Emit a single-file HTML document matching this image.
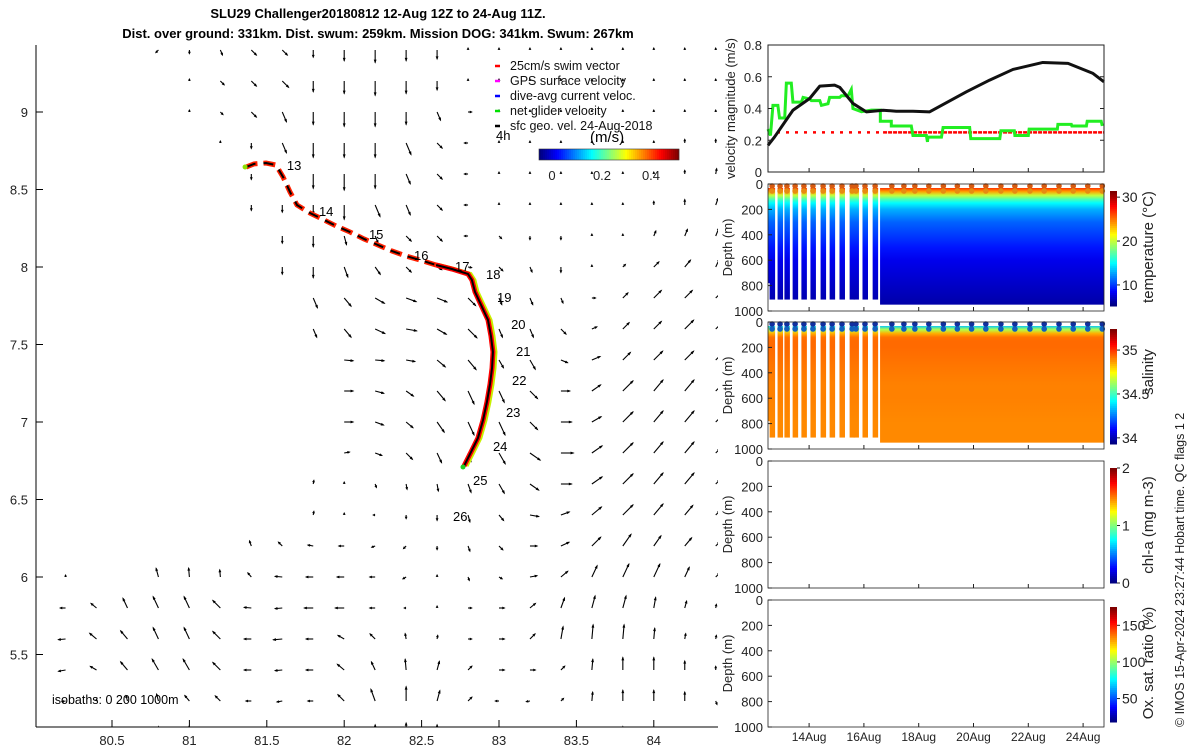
<!DOCTYPE html>
<html><head><meta charset="utf-8">
<style>
html,body{margin:0;padding:0;background:#fff;}
svg{display:block;font-family:"Liberation Sans",sans-serif;}
</style></head>
<body>
<svg id="fig" width="1200" height="750" viewBox="0 0 1200 750" xmlns="http://www.w3.org/2000/svg">
<defs>
<clipPath id="mapclip"><rect x="36" y="45" width="682" height="682"/></clipPath>
</defs>
<g font-weight="bold" font-size="13" text-anchor="middle">
<text x="378" y="18">SLU29 Challenger20180812 12-Aug 12Z to 24-Aug 11Z.</text>
<text x="378" y="38">Dist. over ground: 331km. Dist. swum: 259km. Mission DOG: 341km. Swum: 267km</text>
</g>
<g id="map"></g>
<g id="right"></g>
</svg>
<script>
// ===== map data =====
const quiverLats = [9.4,9.2,9.0,8.8,8.6,8.4,8.2,8.0,7.8,7.6,7.4,7.2,7.0,6.8,6.6,6.4,6.2,6.0,5.8,5.6,5.4,5.2,5.0];
const quiverLons = [80.2,80.4,80.6,80.8,81.0,81.2,81.4,81.6,81.8,82.0,82.2,82.4,82.6,82.8,83.0,83.2,83.4,83.6,83.8,84.0,84.2,84.4];
const _ = null;
// direction (deg clockwise from north) per row
const quiverDir = [
[_,_,_,225,180,157,135,135,180,180,180,180,180,0,0,0,0,0,0,0,0,0],
[_,_,_,_,0,135,135,135,180,180,180,180,180,0,0,0,0,0,0,0,0,0],
[_,_,_,_,0,135,135,157,180,180,180,180,157,90,0,0,0,0,0,0,0,0],
[_,_,_,_,_,0,180,157,180,180,180,157,135,270,0,0,0,0,0,0,0,0],
[_,_,_,_,_,_,180,_,180,180,180,157,135,270,0,0,0,0,0,0,0,10],
[_,_,_,_,_,_,180,180,180,180,157,157,135,270,0,0,0,0,0,0,0,20],
[_,_,_,_,_,_,_,180,180,165,157,135,135,270,135,180,180,0,0,22,22,22],
[_,_,_,_,_,_,_,180,180,160,145,135,120,100,135,157,180,0,45,45,40,25],
[_,_,_,_,_,_,_,_,157,140,120,110,112,135,157,157,157,90,45,45,45,45],
[_,_,_,_,_,_,_,_,157,140,115,100,120,135,157,157,135,67,45,45,45,45],
[_,_,_,_,_,_,_,_,_,95,95,100,130,140,150,150,112,67,45,45,45,45],
[_,_,_,_,_,_,_,_,_,90,105,125,140,155,155,135,90,55,45,40,40,45],
[_,_,_,_,_,_,_,_,_,90,110,130,145,155,155,135,90,60,45,40,40,45],
[_,_,_,_,_,_,_,_,_,80,110,135,155,160,150,125,90,55,45,40,40,45],
[_,_,_,_,_,_,_,_,10,0,160,170,170,160,150,125,90,55,45,40,40,45],
[_,_,_,_,_,_,_,_,10,0,270,180,180,165,140,100,70,50,45,40,40,45],
[_,_,_,_,_,_,340,315,280,270,250,225,180,160,135,90,65,45,35,35,40,45],
[0,_,_,345,355,355,320,275,270,270,270,240,0,160,120,80,50,25,25,25,25,45],
[270,310,335,335,335,315,275,265,270,270,270,270,0,90,90,50,20,15,15,10,15,10],
[265,310,320,335,335,315,270,265,270,300,315,350,10,90,90,45,10,5,5,5,10,10],
[260,300,320,330,330,315,270,265,270,310,335,355,15,45,90,90,45,5,0,0,0,0],
[260,0,345,345,320,315,270,260,270,315,340,0,15,45,270,260,45,5,0,0,0,160],
[_,_,0,0,355,0,_,_,_,0,0,0,0,_,_,_,_,0,0,0,_,_]
];
// speed (relative units) per row
const quiverSpd = [
[_,_,_,2,2,3,4,4,4,6,7,6,5,1,1,1,1,1,1,1,1,1],
[_,_,_,_,1,3,4,5,6,7,8,7,5,1,1,1,1,1,1,1,1,1],
[_,_,_,_,1,2,4,6,7,8,8,7,5,2,1,1,1,1,1,1,1,1],
[_,_,_,_,_,1,3,6,8,8,8,7,4,2,1,1,1,1,1,1,2,2],
[_,_,_,_,_,_,3,_,8,9,8,6,4,2,1,1,1,1,1,1,2,3],
[_,_,_,_,_,_,3,4,5,8,7,6,4,2,1,1,1,1,1,2,3,4],
[_,_,_,_,_,_,_,4,6,5,4,4,4,2,2,2,2,1,1,3,4,5],
[_,_,_,_,_,_,_,4,6,6,5,4,3,2,3,3,3,1,2,4,5,5],
[_,_,_,_,_,_,_,_,6,6,6,6,6,6,4,4,3,2,4,6,6,5],
[_,_,_,_,_,_,_,_,5,6,6,6,6,7,5,5,4,3,5,6,7,5],
[_,_,_,_,_,_,_,_,_,5,5,5,6,7,5,6,4,5,6,7,7,5],
[_,_,_,_,_,_,_,_,_,5,5,5,7,8,7,6,5,6,8,8,8,4],
[_,_,_,_,_,_,_,_,_,5,5,5,7,8,8,6,6,6,8,8,8,4],
[_,_,_,_,_,_,_,_,_,3,4,5,6,5,7,7,7,7,8,8,8,3],
[_,_,_,_,_,_,_,_,2,1,2,3,4,5,6,6,6,7,8,8,8,3],
[_,_,_,_,_,_,_,_,2,1,1,2,3,4,4,5,5,7,8,8,7,3],
[_,_,_,_,_,_,3,3,3,3,2,2,2,3,3,4,5,7,8,7,6,3],
[1,_,_,5,5,4,3,4,4,4,3,2,1,2,2,4,5,7,8,8,6,3],
[3,4,6,7,7,6,4,4,5,5,3,1,1,2,3,4,6,7,7,6,4,2],
[4,5,6,7,7,6,4,5,4,4,4,3,2,2,3,4,7,8,8,6,3,2],
[4,4,6,7,7,6,4,4,4,5,5,6,5,3,3,3,3,6,7,7,5,2],
[2,1,3,4,4,4,3,3,3,5,7,8,6,3,2,2,2,5,6,6,5,2],
[_,_,1,3,3,2,_,_,_,2,4,5,4,_,_,_,_,2,3,1,_,_]
];
// glider track (lon/lat)
const trackLon = [81.366,81.417,81.495,81.559,81.605,81.650,81.695,81.779,81.857,81.947,82.037,82.128,82.218,82.309,82.399,82.490,82.593,82.696,82.800,82.825,82.845,82.884,82.929,82.948,82.961,82.955,82.942,82.922,82.897,82.864,82.819,82.774];
const trackLat = [8.645,8.665,8.671,8.658,8.581,8.484,8.400,8.348,8.310,8.265,8.226,8.181,8.142,8.103,8.071,8.045,8.013,7.987,7.955,7.916,7.839,7.755,7.658,7.555,7.452,7.348,7.245,7.129,7.013,6.897,6.806,6.716];
const dashedUntil = 16; // index where track becomes continuous
const dayNames = ["13","14","15","16","17","18","19","20","21","22","23","24","25","26"];
const dayLon = [81.630,81.837,82.160,82.451,82.716,82.916,82.987,83.078,83.110,83.084,83.045,82.961,82.832,82.703];
const dayLat = [8.658,8.361,8.213,8.077,8.006,7.955,7.806,7.632,7.458,7.271,7.065,6.845,6.626,6.394];
const mapXTicks = [80.5,81,81.5,82,82.5,83,83.5,84];
const mapYTicks = [9,8.5,8,7.5,7,6.5,6,5.5];

// ===== time series data (t = days since 12-Aug 12Z) =====
const sfcT = [0,0.24,0.91,1.52,1.89,2.43,2.62,3.1,3.59,4.2,4.68,5.29,5.9,7.24,8.09,8.94,10.03,10.95,11.86,12.26];
const sfcV = [0.168,0.221,0.389,0.463,0.541,0.547,0.533,0.432,0.379,0.389,0.383,0.383,0.379,0.505,0.579,0.646,0.69,0.684,0.621,0.568];
const netT = [0,0.09,0.18,0.36,0.42,0.61,0.67,0.85,0.91,1.22,1.28,1.52,1.58,1.89,1.95,2.19,2.25,2.62,2.68,2.92,3.04,3.1,3.41,3.77,4.1,4.1,4.5,4.5,5.23,5.29,5.78,5.82,5.84,6.33,6.39,7.36,7.4,8.46,8.5,8.99,9.01,9.5,9.53,10.56,10.58,11.07,11.09,11.62,11.65,12.16,12.2];
const netV = [0.27,0.23,0.42,0.42,0.34,0.34,0.56,0.56,0.44,0.44,0.47,0.46,0.45,0.45,0.42,0.43,0.47,0.47,0.48,0.48,0.52,0.40,0.38,0.39,0.39,0.32,0.32,0.29,0.29,0.23,0.23,0.19,0.22,0.22,0.28,0.28,0.21,0.21,0.26,0.26,0.23,0.23,0.27,0.27,0.30,0.30,0.29,0.29,0.32,0.32,0.29];
const swimV = 0.25;
const velTicks = [0,0.2,0.4,0.6,0.8];
const dateTicks = ["14Aug","16Aug","18Aug","20Aug","22Aug","24Aug"];
const dateTickT = [1.5,3.5,5.5,7.5,9.5,11.5];
const depthTicks = [0,200,400,600,800,1000];
const diveT = [0.15,0.44,0.69,0.99,1.31,1.64,2.01,2.34,2.70,3.07,3.21,3.54,3.91];
const surfT = [4.52,4.96,5.36,5.87,6.4,6.91,7.43,7.95,8.5,9.01,9.56,10.08,10.62,11.14,11.67,12.2];
const profDepth = [0,30,60,90,120,150,200,300,400,500,600,800,1000];
const profTemp = [29,27,24,20,17,15,13,11,10,9,8,7,6];
const profSal = [34.0,34.35,34.65,34.85,34.93,34.94,34.94,34.93,34.92,34.91,34.91,34.9,34.9];
const tempTicks = [10,20,30], salTicks = [34,34.5,35], chlTicks = [0,1,2], oxTicks = [50,100,150];

// ===== helpers =====
const NS = "http://www.w3.org/2000/svg";
function mk(tag, attrs, parent){const e=document.createElementNS(NS,tag);for(const k in attrs)e.setAttribute(k,attrs[k]);parent.appendChild(e);return e;}
function jet(f){f=Math.max(0,Math.min(1,f));const r=Math.max(0,Math.min(1,1.5-Math.abs(4*f-3))),g=Math.max(0,Math.min(1,1.5-Math.abs(4*f-2))),b=Math.max(0,Math.min(1,1.5-Math.abs(4*f-1)));return `rgb(${Math.round(r*255)},${Math.round(g*255)},${Math.round(b*255)})`;}

const lonToX = lon => 112 + (lon-80.5)*154.8;
const latToY = lat => 112 + (9-lat)*155;

// ===== map =====
const map = document.getElementById('map');
const mg = mk('g',{'clip-path':'url(#mapclip)'},map);


for(let r=0;r<quiverLats.length;r++){
  for(let c=0;c<quiverLons.length;c++){
    const d=quiverDir[r][c], s=quiverSpd[r][c];
    if(d===null||s===null) continue;
    const x0=lonToX(quiverLons[c]), y0=latToY(quiverLats[r]);
    const L=s*1.8, a=d*Math.PI/180;
    const dx=Math.sin(a)*L, dy=-Math.cos(a)*L;
    const g=mk('g',{},mg);
    
    
    mk('line',{x1:x0,y1:y0,x2:x0+dx,y2:y0+dy,stroke:'#000','stroke-width':1.1},g);
    const ux=Math.sin(a), uy=-Math.cos(a), h=Math.min(3,1.3+L*0.15);
    const tx=x0+dx, ty=y0+dy;
    mk('polygon',{points:`${tx+ux*1.2},${ty+uy*1.2} ${tx-ux*h-uy*1.4},${ty-uy*h+ux*1.4} ${tx-ux*h+uy*1.4},${ty-uy*h-ux*1.4}`,fill:'#000'},g);
  }
}
// track
const tg = mk('g',{'clip-path':'url(#mapclip)'},map);


const ptsA=[],ptsB=[];
for(let i=0;i<trackLon.length;i++){const p=`${lonToX(trackLon[i])},${latToY(trackLat[i])}`; if(i<=dashedUntil) ptsA.push(p); if(i>=dashedUntil) ptsB.push(p);}
const ptsBY = trackLon.slice(dashedUntil).map((v,i)=>`${lonToX(v)+2.5},${latToY(trackLat[dashedUntil+i])}`).join(' ');
mk('polyline',{points:ptsBY,fill:'none',stroke:'#c8f000','stroke-width':4},tg);
mk('polyline',{points:ptsB.join(' '),fill:'none',stroke:'#ff0000','stroke-width':5},tg);
mk('polyline',{points:ptsB.join(' '),fill:'none',stroke:'#000','stroke-width':2},tg);
mk('polyline',{points:ptsA.join(' '),fill:'none',stroke:'#ff2000','stroke-width':5,'stroke-dasharray':'12 6'},tg);
mk('polyline',{points:ptsA.join(' '),fill:'none',stroke:'#000','stroke-width':2,'stroke-dasharray':'10 8'},tg);
mk('circle',{cx:lonToX(trackLon[0])-1,cy:latToY(trackLat[0]),r:2.5,fill:'#8fe000'},tg);
mk('circle',{cx:lonToX(trackLon[trackLon.length-1])-1,cy:latToY(trackLat[trackLat.length-1])+1,r:2.5,fill:'#20d020'},tg);
for(let i=0;i<dayNames.length;i++){
  const t=mk('text',{x:lonToX(dayLon[i]),y:latToY(dayLat[i])+5,'font-size':13},map);
  
  
  t.textContent=dayNames[i];
}
// axes
const ax = mk('g',{stroke:'#000','stroke-width':1},map);


mk('line',{x1:36,y1:45,x2:36,y2:727},ax);
mk('line',{x1:36,y1:727,x2:718,y2:727},ax);
for(const v of mapXTicks){const x=lonToX(v);mk('line',{x1:x,y1:727,x2:x,y2:720},ax);
  const t=mk('text',{x:x,y:745,'font-size':13,'text-anchor':'middle',stroke:'none',fill:'#222'},map);
    t.textContent=v;}
for(const v of mapYTicks){const y=latToY(v);mk('line',{x1:36,y1:y,x2:43,y2:y},ax);
  const t=mk('text',{x:28,y:y+5,'font-size':13,'text-anchor':'end',stroke:'none',fill:'#222'},map);
    t.textContent=v;}
// legend
const legItems=[['#ff0000','25cm/s swim vector'],['#ff00ff','GPS surface velocity'],['#0000ff','dive-avg current veloc.'],['#00e000','net glider velocity'],['#000000','sfc geo. vel. 24-Aug-2018']];
legItems.forEach((it,i)=>{
  const g=mk('g',{},map);
   
  mk('line',{x1:495,y1:66+i*15,x2:500,y2:66+i*15,stroke:it[0],'stroke-width':2.5},g);
  const t=mk('text',{x:510,y:66+i*15+4,'font-size':12.5,fill:'#111'},g); t.textContent=it[1];
});
const t4=mk('text',{x:496,y:140,'font-size':13},map);   t4.textContent='4h';
const tms=mk('text',{x:590,y:142,'font-size':15},map);   tms.textContent='(m/s)';
const cbm=mk('g',{},map);  
for(let i=0;i<70;i++) mk('rect',{x:539+i*2,y:149,width:2.2,height:11,fill:jet(i/69)},cbm);
mk('rect',{x:539,y:149,width:140,height:11,fill:'none',stroke:'#333','stroke-width':0.6},cbm);
[['0',552],['0.2',602],['0.4',651]].forEach(a=>{const t=mk('text',{x:a[1],y:180,'font-size':13,'text-anchor':'middle',fill:'#222'},cbm);t.textContent=a[0];});
const iso=mk('text',{x:52,y:704,'font-size':12.5},map);   iso.textContent='isobaths: 0   200  1000m';

// ===== right panels =====
const R = document.getElementById('right');
const X0=768, X1=1104;
const tToX = t => X0 + t*27.4;
function txt(p,x,y,s,attrs,name){const t=mk('text',Object.assign({x:x,y:y,'font-size':13,fill:'#222'},attrs||{}),p);t.textContent=s;return t;}

// velocity panel
const vp=mk('g',{},R);  
const vTop=45, vBot=172; const vToY=v=>vBot-(v/0.8)*(vBot-vTop);
mk('line',{x1:X0,y1:vToY(swimV),x2:tToX(4.2),y2:vToY(swimV),stroke:'#ff0000','stroke-width':2.5,'stroke-dasharray':'3 6'},vp);
mk('line',{x1:tToX(4.2),y1:vToY(swimV),x2:X1,y2:vToY(swimV),stroke:'#ff0000','stroke-width':2.5,'stroke-dasharray':'4 1'},vp);
const np=netT.map((t,i)=>`${tToX(t)},${vToY(netV[i])}`).join(' ');
const nl=mk('polyline',{points:np,fill:'none',stroke:'#22ee22','stroke-width':3},vp);  
const sp=sfcT.map((t,i)=>`${tToX(t)},${vToY(sfcV[i])}`).join(' ');
const sl=mk('polyline',{points:sp,fill:'none',stroke:'#111','stroke-width':3,'stroke-linejoin':'round'},vp);  
mk('rect',{x:X0,y:vTop,width:X1-X0,height:vBot-vTop,fill:'none',stroke:'#222','stroke-width':1},vp);
for(const v of velTicks){const y=vToY(v);mk('line',{x1:X0,y1:y,x2:X0+4,y2:y,stroke:'#222'},vp);mk('line',{x1:X1,y1:y,x2:X1-4,y2:y,stroke:'#222'},vp);txt(vp,762,y+5,String(v),{'text-anchor':'end'},'velocity-tick-label');}
txt(vp,0,0,'velocity magnitude (m/s)',{'text-anchor':'middle',transform:`translate(735,${(vTop+vBot)/2}) rotate(-90)`},'velocity-axis-title');

function depthPanel(top,name,fillFn,cbTicks,cbMin,cbMax,label,labelY){
  const bot=top+127;
  const g=mk('g',{},R);  
  const dToY=d=>top+(d/1000)*(bot-top);
  if(fillFn) fillFn(g,dToY,top,bot);
  mk('rect',{x:X0,y:top,width:X1-X0,height:bot-top,fill:'none',stroke:'#222','stroke-width':0.8},g);
  for(const d of depthTicks){const y=dToY(d);mk('line',{x1:X0,y1:y,x2:X0+4,y2:y,stroke:'#222'},g);txt(g,763,y+5,String(d),{'text-anchor':'end'},'depth-tick-label');}
  for(const t of dateTickT){const x=tToX(t);mk('line',{x1:x,y1:bot,x2:x,y2:bot-4,stroke:'#222'},g);}
  txt(g,0,0,'Depth (m)',{'text-anchor':'middle',transform:`translate(732,${(top+bot)/2}) rotate(-90)`},'depth-axis-title');
  const cb=mk('g',{},g);  
  const cT=top+7, cB=bot-5;
  for(let i=0;i<60;i++) mk('rect',{x:1110,y:cB-(i+1)*(cB-cT)/60,width:7,height:(cB-cT)/60+0.5,fill:jet(i/59)},cb);
  for(const v of cbTicks){const y=cB-(v-cbMin)/(cbMax-cbMin)*(cB-cT);mk('line',{x1:1117,y1:y,x2:1120,y2:y,stroke:'#222'},cb);txt(cb,1122,y+5,String(v),{'font-size':14},'colorbar-tick-label');}
  txt(g,0,0,label,{'text-anchor':'middle','font-size':15,transform:`translate(1153,${labelY}) rotate(-90)`},'colorbar-title');
  return g;
}
function profileFill(vals,vmin,vmax,id,dotColor,dotColor2){
  return function(g,dToY,top,bot){
    const grad=mk('linearGradient',{id:id,gradientUnits:'userSpaceOnUse',x1:0,y1:top,x2:0,y2:bot},document.querySelector('defs'));
    profDepth.forEach((d,i)=>mk('stop',{offset:d/1000,'stop-color':jet((vals[i]-vmin)/(vmax-vmin))},grad));
    mk('rect',{x:X0,y:top+4,width:7,height:dToY(780)-top-4,fill:`url(#${id})`},g);
    for(const t of diveT){const x=tToX(t);mk('rect',{x:x-2.5,y:top+4,width:5.5,height:dToY(910)-top-4,fill:`url(#${id})`},g);}
    mk('rect',{x:tToX(4.09),y:top+4,width:X1-tToX(4.09),height:dToY(950)-top-4,fill:`url(#${id})`},g);
    for(const t of diveT.concat(surfT)){const x=tToX(t);mk('circle',{cx:x,cy:top+2,r:2.8,fill:dotColor},g);mk('circle',{cx:x,cy:top+7,r:2.8,fill:dotColor2},g);}
  };
}
depthPanel(184,'temperature-panel',profileFill(profTemp,5.2,31.4,'gT','#d85a10','#e88a10'),tempTicks,5.2,31.4,'temperature (°C)',247);
depthPanel(322,'salinity-panel',profileFill(profSal,33.93,35.24,'gS','#1030a0','#1060c0'),salTicks,33.93,35.24,'salinity',372);
depthPanel(461,'chlorophyll-panel',null,chlTicks,0,2,'chl-a (mg m-3)',525);
depthPanel(600,'oxygen-panel',null,oxTicks,18,175,'Ox. sat. ratio (%)',663);
for(let i=0;i<dateTicks.length;i++) txt(R,tToX(dateTickT[i]),741,dateTicks[i],{'text-anchor':'middle','font-size':12},'date-tick-label');
for(const t of dateTickT){const x=tToX(t);mk('line',{x1:x,y1:vBot,x2:x,y2:vBot-4,stroke:'#222'},vp);}
txt(R,0,0,'© IMOS 15-Apr-2024 23:27:44 Hobart time. QC flags 1  2',{'font-size':12.5,transform:'translate(1184,727) rotate(-90)'},'imos-credit');
</script>
</body></html>
